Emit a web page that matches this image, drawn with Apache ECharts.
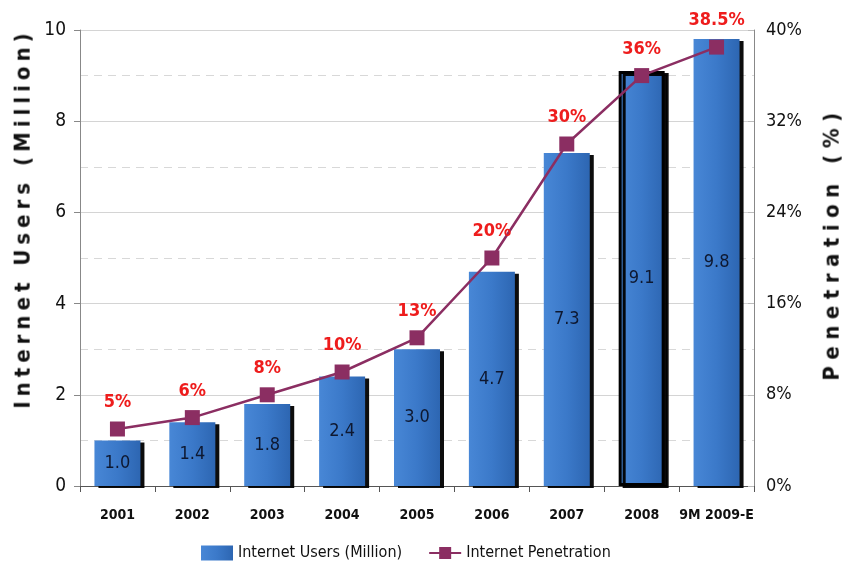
<!DOCTYPE html>
<html><head><meta charset="utf-8">
<script src="https://cdn.jsdelivr.net/npm/echarts@6/dist/echarts.min.js"></script>
<style>
html,body{margin:0;padding:0;background:#fff;}
#c{width:851px;height:572px;position:relative;}
.ttl{position:absolute;font-family:'Liberation Sans Narrow','Arial Narrow','DejaVu Sans Condensed',sans-serif;font-weight:bold;color:#111;white-space:nowrap;transform-origin:center center;}
</style></head>
<body>
<div id="c"></div>
<div class="ttl" id="lt" style="font-size:22px;letter-spacing:5px;">Internet Users (Million)</div>
<div class="ttl" id="rt" style="font-size:22px;letter-spacing:6.5px;">Penetration (%)</div>
<script>
var categories = ['2001','2002','2003','2004','2005','2006','2007','2008','9M 2009-E'];
var users = [1.0,1.4,1.8,2.4,3.0,4.7,7.3,9.1,9.8];
var penetration = [5,6,8,10,13,20,30,36,38.5];
var penetrationLabels = ['5%','6%','8%','10%','13%','20%','30%','36%','38.5%'];
var leftTicks = [0,2,4,6,8,10];
var rightTicks = [0,8,16,24,32,40];

var FONT = "'Liberation Sans Narrow','Arial Narrow','DejaVu Sans Condensed',sans-serif";
var chart = echarts.init(document.getElementById('c'), null, {renderer:'canvas'});
var barGrad = new echarts.graphic.LinearGradient(0,0,1,0,[{offset:0,color:'#4887d6'},{offset:0.5,color:'#3b79c9'},{offset:1,color:'#2d66b2'}]);
var barData = users.map(function(v,i){
  var d = {value:v};
  if (categories[i]==='2008') d.itemStyle = {borderColor:'#000',borderWidth:3};
  return d;
});
chart.setOption({
  animation:false,
  grid:{left:80,right:97,top:30,bottom:86},
  legend:{
    bottom:6,left:196,itemGap:26,itemWidth:32,itemHeight:15,
    textStyle:{fontFamily:FONT,fontSize:16,color:'#111'},
    data:[{name:'Internet Users (Million)',icon:'rect'},{name:'Internet Penetration'}]
  },
  xAxis:{
    type:'category',data:categories,
    axisLine:{lineStyle:{color:'#555',width:1}},
    axisTick:{show:true,length:6,lineStyle:{color:'#555'}},
    axisLabel:{interval:0,fontFamily:FONT,fontWeight:'bold',fontSize:14,color:'#111',margin:22}
  },
  yAxis:[{
    type:'value',min:0,max:10,interval:2,
    axisLine:{show:true,lineStyle:{color:'#888'}},
    axisTick:{show:true,length:6,lineStyle:{color:'#888'}},
    axisLabel:{fontFamily:FONT,fontSize:19,color:'#111',margin:14},
    splitLine:{show:true,lineStyle:{color:'#d4d4d4',width:1}},
    minorTick:{show:false,splitNumber:2},
    minorSplitLine:{show:true,lineStyle:{color:'#d8d8d8',type:[8,6]}}
  },{
    type:'value',min:0,max:40,interval:8,
    axisLine:{show:true,lineStyle:{color:'#888'}},
    axisTick:{show:true,inside:true,length:6,lineStyle:{color:'#bbb'}},
    axisLabel:{fontFamily:FONT,fontSize:18,color:'#111',margin:12,formatter:'{value}%'},
    splitLine:{show:false}
  }],
  series:[{
    name:'Internet Users (Million)',type:'bar',yAxisIndex:0,data:barData,barWidth:46,
    itemStyle:{color:barGrad,shadowColor:'rgba(0,0,0,0.95)',shadowOffsetX:4,shadowOffsetY:2,shadowBlur:0},
    label:{show:true,position:'inside',fontFamily:FONT,fontSize:18,color:'#0e1830',formatter:function(p){return p.value.toFixed(1);}},
    z:2
  },{
    name:'Internet Penetration',type:'line',yAxisIndex:1,data:penetration,
    symbol:'rect',symbolSize:15,
    lineStyle:{color:'#8b2e62',width:2.5},
    itemStyle:{color:'#8b2e62'},
    label:{show:true,position:'top',distance:10,fontFamily:FONT,fontSize:18,fontWeight:'bold',color:'#ee1c1c',
      formatter:function(p){return penetrationLabels[p.dataIndex];}},
    z:5
  }]
});
function placeTitle(id,cx,cy,rot){
  var el=document.getElementById(id);
  var w=el.offsetWidth,h=el.offsetHeight;
  el.style.left=(cx-w/2)+'px';el.style.top=(cy-h/2)+'px';
  el.style.transform='rotate('+rot+'deg)';
}
placeTitle('lt',22,218,-90);
placeTitle('rt',831,243,-90);
</script>
</body></html>
